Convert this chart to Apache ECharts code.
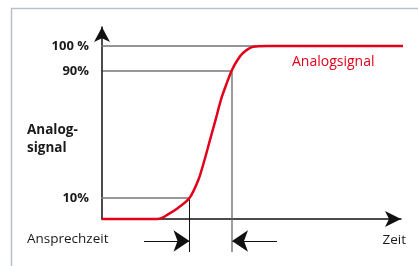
<!DOCTYPE html>
<html>
<head>
<meta charset="utf-8">
<script src="https://cdn.jsdelivr.net/npm/echarts@6/dist/echarts.min.js"></script>
<style>
  html, body { margin: 0; padding: 0; background: #fff; }
  #chart { width: 418px; height: 266px; }
</style>
</head>
<body>
<div id="chart"></div>
<script>
// Signal curve (x in time units, y in percent)
var curveX = [0, 55, 60, 65, 76, 87.5, 96.3, 102.5, 108, 113.5, 119.5, 124.7, 129.5, 134.7, 141.3, 151.3, 164.7, 301];
var curveY = [0, 0, 0.6, 2.3, 6.4, 12.1, 22.5, 34.1, 45.7, 57.2, 70, 78.4, 85.56, 91.2, 96.1, 99.6, 100, 100];

// Levels of the guide lines and their labels
var levelValues = [12.14, 85.56, 100];
var levelLabels = ['10%', '90%', '100 %'];

// Times where the curve crosses 10% and 90%, end of the 100% guide
var t10 = 87.5;
var t90 = 130;
var t100 = 165;
var guideStart = -8;
var guideBottom = -19.1;

// Response-time arrows below the time axis
var arrowLevel = -12.7;
var arrowLeftFrom = 42;
var arrowRightFrom = 175;

var chart = echarts.init(document.getElementById('chart'));

var font = '"Open Sans", "Noto Sans", sans-serif';

function pairs(xs, ys) {
    return xs.map(function (x, i) { return [x, ys[i]]; });
}

var option = {
    animation: false,
    grid: {
        left: 102,
        right: 17,
        top: 27,
        bottom: 47
    },
    xAxis: {
        type: 'value',
        min: 0,
        max: 299,
        axisLine: {
            show: true,
            onZero: false,
            symbol: ['none', 'arrow'],
            symbolSize: [12, 16],
            lineStyle: { color: '#111', width: 1.5 }
        },
        axisTick: { show: false },
        axisLabel: { show: false },
        splitLine: { show: false }
    },
    yAxis: {
        type: 'value',
        min: 0,
        max: 111,
        axisLine: {
            show: true,
            onZero: false,
            symbol: ['none', 'arrow'],
            symbolSize: [12, 15],
            lineStyle: { color: '#111', width: 1.5 }
        },
        axisTick: { show: false },
        splitLine: { show: false },
        axisLabel: {
            customValues: levelValues,
            margin: 13,
            color: '#1a1a1a',
            fontFamily: font,
            fontWeight: 'bold',
            fontSize: 13,
            formatter: function (value) {
                var i = levelValues.indexOf(value);
                return i >= 0 ? levelLabels[i] : '';
            }
        }
    },
    graphic: [
        {
            type: 'rect',
            silent: true,
            shape: { x: 11.5, y: 8.5, width: 600, height: 600 },
            style: { fill: 'none', stroke: '#b7c0cc', lineWidth: 1.5 },
            z: -10
        },
        {
            type: 'text',
            left: 27,
            top: 121,
            style: {
                text: 'Analog-\nsignal',
                font: 'bold 13.5px ' + font,
                fill: '#1a1a1a',
                lineHeight: 18
            }
        },
        {
            type: 'text',
            left: 27,
            top: 232,
            style: { text: 'Ansprechzeit', font: '13.5px ' + font, fill: '#1a1a1a' }
        },
        {
            type: 'text',
            right: 12,
            top: 233,
            style: { text: 'Zeit', font: '13.5px ' + font, fill: '#1a1a1a' }
        },
        {
            type: 'text',
            left: 292,
            top: 55,
            style: { text: 'Analogsignal', font: '14px ' + font, fill: '#e2001a' }
        }
    ],
    series: [
        {
            name: 'g100',
            type: 'line',
            clip: false,
            symbol: 'none',
            lineStyle: { color: '#707070', width: 1.6 },
            data: [[guideStart, levelValues[2]], [t100, levelValues[2]]]
        },
        {
            name: 'g90',
            type: 'line',
            clip: false,
            symbol: 'none',
            lineStyle: { color: '#333', width: 1 },
            data: [[guideStart, levelValues[1]], [t90, levelValues[1]]]
        },
        {
            name: 'v90',
            type: 'line',
            clip: false,
            symbol: 'none',
            lineStyle: { color: '#666', width: 1.3 },
            data: [[t90, levelValues[1]], [t90, guideBottom]]
        },
        {
            name: 'g10',
            type: 'line',
            clip: false,
            symbol: 'none',
            lineStyle: { color: '#777', width: 1.6 },
            data: [[guideStart, levelValues[0]], [t10, levelValues[0]]]
        },
        {
            name: 'v10',
            type: 'line',
            clip: false,
            symbol: 'none',
            lineStyle: { color: '#111', width: 1 },
            data: [[t10, levelValues[0]], [t10, guideBottom]]
        },
        {
            name: 'arrows',
            type: 'lines',
            coordinateSystem: 'cartesian2d',
            clip: false,
            silent: true,
            symbol: ['none', 'arrow'],
            symbolSize: [9, 16],
            lineStyle: { color: '#111', width: 1.2, opacity: 1, curveness: 0 },
            data: [
                { coords: [[arrowLeftFrom, arrowLevel], [t10, arrowLevel]] },
                { coords: [[arrowRightFrom, arrowLevel], [t90, arrowLevel]] }
            ]
        },
        {
            name: 'Analogsignal',
            type: 'line',
            clip: false,
            smooth: 0.3,
            symbol: 'none',
            z: 5,
            lineStyle: { color: '#e2001a', width: 2.5 },
            data: pairs(curveX, curveY)
        }
    ]
};

chart.setOption(option);
</script>
</body>
</html>
